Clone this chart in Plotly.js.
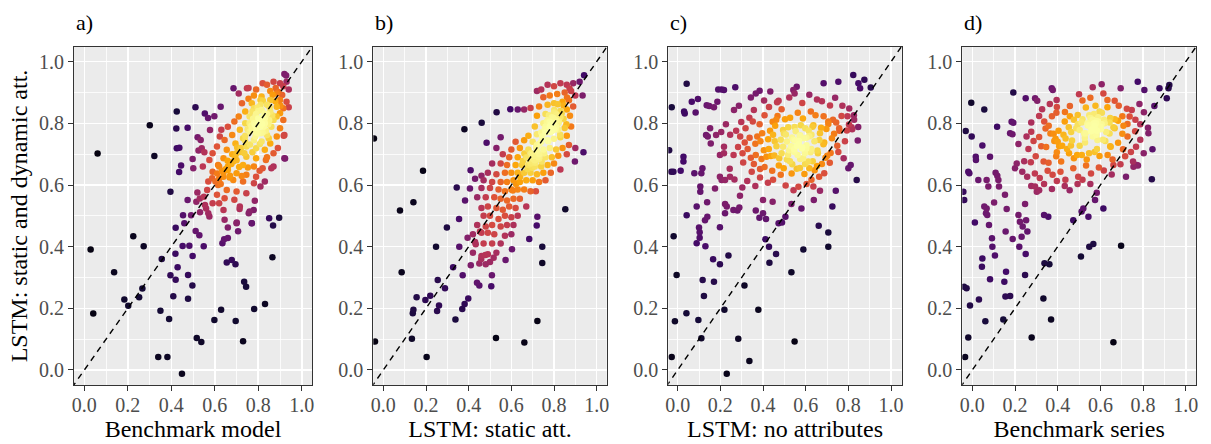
<!DOCTYPE html>
<html>
<head>
<meta charset="utf-8">
<script src="https://cdn.plot.ly/plotly-3.0.1.min.js"></script>
<style>html,body{margin:0;padding:0;background:#fff;}#chart{width:1211px;height:444px;}</style>
</head>
<body>
<div id="chart"></div>
<script>
// ---------------- data ----------------
const panelLabels = ['a)', 'b)', 'c)', 'd)'];
const xTitles = ['Benchmark model', 'LSTM: static att.', 'LSTM: no attributes', 'Benchmark series'];
const yTitle = 'LSTM: static and dynamic att.';
const tickVals = [0, 0.2, 0.4, 0.6, 0.8, 1.0];
const tickText = ['0.0', '0.2', '0.4', '0.6', '0.8', '1.0'];

const ptsA = [
[0.061,0.702],[0.029,0.391],[0.041,0.183],[0.137,0.317],[0.184,0.229],[0.202,0.208],[0.225,0.434],[0.273,0.401],[0.267,0.264],[0.252,0.236],
[0.301,0.794],[0.322,0.694],[0.350,0.192],[0.356,0.360],[0.340,0.042],[0.382,0.042],[0.390,0.165],[0.396,0.578],[0.396,0.307],[0.409,0.239],
[0.420,0.293],[0.419,0.377],[0.420,0.461],[0.429,0.333],[0.425,0.838],[0.423,0.783],[0.425,0.719],[0.437,0.721],[0.449,-0.012],[0.454,0.502],
[0.452,0.402],[0.460,0.476],[0.475,0.551],[0.477,0.308],[0.477,0.231],[0.475,0.786],[0.445,0.663],[0.436,0.642],[0.483,0.403],[0.491,0.502],
[0.498,0.370],[0.497,0.274],[0.498,0.684],[0.501,0.654],[0.511,0.852],[0.517,0.104],[0.538,0.091],[0.512,0.451],[0.529,0.437],[0.549,0.401],
[0.521,0.755],[0.535,0.746],[0.525,0.712],[0.554,0.832],[0.569,0.817],[0.540,0.719],[0.552,0.706],[0.520,0.576],[0.531,0.556],[0.532,0.512],
[0.560,0.524],[0.575,0.498],[0.598,0.162],[0.629,0.195],[0.635,0.411],[0.643,0.424],[0.660,0.428],[0.655,0.349],[0.678,0.357],[0.695,0.343],
[0.696,0.159],[0.660,0.462],[0.707,0.450],[0.701,0.478],[0.735,0.286],[0.744,0.270],[0.730,0.093],[0.781,0.198],[0.831,0.214],[0.770,0.476],
[0.779,0.519],[0.784,0.549],[0.756,0.508],[0.714,0.522],[0.865,0.366],[0.868,0.469],[0.896,0.494],[0.923,0.686],[0.928,0.955],[0.917,0.760],
[0.940,0.852],[0.686,0.914],[0.748,0.914],[0.627,0.854],[0.598,0.823],[0.623,0.757],[0.578,0.778],
[0.92,0.96],[0.93,0.935],[0.90,0.93],[0.87,0.935],[0.84,0.925],[0.82,0.93],[0.88,0.915],[0.915,0.92],[0.94,0.91],[0.855,0.905],
[0.79,0.91],[0.755,0.915],[0.71,0.897],[0.78,0.89],[0.815,0.887],[0.885,0.897],[0.91,0.892],[0.755,0.88],[0.81,0.876],[0.855,0.876],
[0.90,0.876],[0.93,0.87],[0.725,0.865],[0.77,0.865],[0.84,0.86],[0.885,0.854],[0.915,0.849],[0.78,0.849],[0.815,0.843],[0.855,0.838],
[0.90,0.833],[0.74,0.838],[0.71,0.822],[0.76,0.822],[0.80,0.816],[0.83,0.816],[0.87,0.811],[0.915,0.811],[0.69,0.806],[0.74,0.80],
[0.785,0.795],[0.825,0.789],[0.86,0.789],[0.90,0.784],[0.66,0.789],[0.715,0.779],[0.76,0.773],[0.80,0.768],[0.84,0.762],[0.885,0.757],
[0.92,0.762],[0.63,0.779],[0.68,0.762],[0.73,0.752],[0.78,0.746],[0.815,0.741],[0.855,0.735],[0.89,0.72],[0.645,0.746],[0.695,0.735],
[0.745,0.725],[0.79,0.719],[0.83,0.714],[0.87,0.703],[0.92,0.687],[0.61,0.725],[0.655,0.714],[0.70,0.703],[0.745,0.692],[0.79,0.687],
[0.835,0.681],[0.87,0.66],[0.59,0.703],[0.64,0.687],[0.685,0.676],[0.73,0.665],[0.78,0.66],[0.82,0.654],[0.86,0.654],[0.575,0.681],
[0.615,0.665],[0.66,0.649],[0.70,0.638],[0.745,0.633],[0.79,0.627],[0.83,0.611],[0.545,0.660],[0.59,0.643],[0.64,0.627],[0.685,0.616],
[0.73,0.611],[0.78,0.606],[0.81,0.595],[0.57,0.611],[0.615,0.600],[0.655,0.584],[0.70,0.579],[0.745,0.573],[0.565,0.584],[0.61,0.568],
[0.645,0.557],[0.69,0.552],[0.55,0.562],[0.59,0.541],[0.62,0.541],[0.515,0.546],[0.555,0.535],[0.64,0.519],[0.715,0.530],[0.76,0.514],
[0.57,0.508],[0.645,0.487],[0.70,0.476],[0.77,0.476],[0.85,0.492],
[0.80,0.80],[0.82,0.82],[0.79,0.83],[0.81,0.79],[0.83,0.80],[0.78,0.80],[0.80,0.84],[0.84,0.83],[0.77,0.78],[0.82,0.77],
[0.76,0.80],[0.85,0.81],[0.81,0.86],[0.79,0.77],[0.74,0.76],[0.72,0.72],[0.70,0.68],[0.68,0.70],[0.66,0.66],[0.64,0.64],
[0.62,0.62],[0.62,0.66],[0.67,0.63],
[0.805,0.812],[0.792,0.786],[0.818,0.798],[0.776,0.815],[0.829,0.832],[0.797,0.851],[0.846,0.797],[0.768,0.792],[0.812,0.768],[0.787,0.757],
[0.835,0.776],[0.852,0.852],[0.864,0.826],[0.821,0.873],[0.773,0.838],[0.751,0.781],[0.739,0.744],[0.762,0.731],[0.718,0.707],[0.703,0.722],
[0.694,0.691],[0.676,0.668],[0.659,0.679],[0.651,0.652],[0.633,0.646],[0.611,0.637],[0.627,0.603],[0.603,0.611],[0.588,0.622],[0.668,0.624],
[0.712,0.658],[0.736,0.703],[0.878,0.872],[0.893,0.902],[0.866,0.893],[0.902,0.857],[0.884,0.822],[0.848,0.752],[0.807,0.733],[0.773,0.706],
[0.752,0.657],[0.724,0.629],[0.806,0.646],[0.840,0.690]
];

const ptsB = [
[-0.044,0.751],[-0.039,0.092],[0.078,0.517],[0.086,0.317],[0.141,0.544],[0.186,0.646],[0.134,0.101],[0.203,0.042],[0.138,0.184],[0.141,0.195],
[0.156,0.236],[0.197,0.227],[0.220,0.241],[0.247,0.400],[0.255,0.292],[0.252,0.191],[0.261,0.209],[0.289,0.265],[0.298,0.462],[0.327,0.333],
[0.338,0.164],[0.344,0.592],[0.355,0.490],[0.356,0.400],[0.372,0.307],[0.380,0.781],[0.383,0.550],[0.370,0.198],[0.381,0.214],[0.398,0.232],
[0.395,0.429],[0.406,0.589],[0.409,0.648],[0.433,0.408],[0.439,0.283],[0.450,0.274],[0.461,0.802],[0.453,0.449],[0.459,0.360],[0.478,0.373],
[0.480,0.343],[0.506,0.272],[0.509,0.307],[0.517,0.364],[0.528,0.104],[0.573,0.357],[0.603,0.392],[0.661,0.089],[0.684,0.425],[0.722,0.159],
[0.719,0.469],[0.722,0.497],[0.745,0.400],[0.745,0.347],[0.853,0.521],[0.938,0.706],[0.898,0.676],[0.941,0.956],[0.934,0.890],[0.484,0.737],
[0.531,0.836],[0.595,0.846],[0.550,0.755],
[0.92,0.935],[0.89,0.93],[0.86,0.925],[0.83,0.93],[0.80,0.92],[0.77,0.925],[0.74,0.91],[0.72,0.905],[0.88,0.905],[0.85,0.90],
[0.815,0.895],[0.78,0.89],[0.75,0.885],[0.90,0.89],[0.87,0.875],[0.84,0.87],[0.80,0.865],[0.77,0.86],[0.73,0.855],[0.69,0.85],
[0.66,0.845],[0.63,0.845],[0.89,0.855],[0.86,0.845],[0.83,0.84],[0.80,0.835],[0.76,0.83],[0.72,0.825],[0.875,0.825],[0.845,0.815],
[0.81,0.81],[0.78,0.805],[0.75,0.80],[0.71,0.79],[0.88,0.79],[0.85,0.785],[0.82,0.78],[0.79,0.775],[0.76,0.77],[0.72,0.765],
[0.68,0.76],[0.86,0.76],[0.83,0.755],[0.80,0.75],[0.77,0.745],[0.74,0.74],[0.70,0.74],[0.66,0.745],[0.62,0.74],[0.90,0.72],
[0.87,0.73],[0.84,0.72],[0.81,0.715],[0.78,0.72],[0.75,0.715],[0.72,0.71],[0.68,0.715],[0.64,0.72],[0.60,0.715],[0.86,0.70],
[0.82,0.695],[0.79,0.69],[0.76,0.69],[0.73,0.685],[0.70,0.685],[0.67,0.69],[0.63,0.69],[0.59,0.69],[0.56,0.70],[0.53,0.72],
[0.80,0.67],[0.77,0.665],[0.74,0.66],[0.71,0.66],[0.68,0.665],[0.65,0.665],[0.62,0.665],[0.58,0.665],[0.55,0.67],[0.51,0.67],
[0.83,0.65],[0.785,0.64],[0.75,0.64],[0.72,0.635],[0.69,0.64],[0.66,0.64],[0.63,0.64],[0.60,0.64],[0.57,0.64],[0.53,0.635],
[0.49,0.64],[0.46,0.63],[0.76,0.615],[0.73,0.61],[0.70,0.615],[0.67,0.615],[0.64,0.61],[0.61,0.615],[0.58,0.61],[0.55,0.61],
[0.51,0.61],[0.47,0.615],[0.43,0.62],[0.715,0.58],[0.69,0.58],[0.66,0.585],[0.63,0.585],[0.60,0.585],[0.57,0.58],[0.54,0.585],
[0.50,0.59],[0.46,0.59],[0.64,0.555],[0.61,0.555],[0.58,0.55],[0.55,0.555],[0.52,0.56],[0.48,0.56],[0.44,0.56],[0.67,0.53],
[0.62,0.525],[0.59,0.53],[0.56,0.52],[0.53,0.525],[0.49,0.53],[0.46,0.525],[0.63,0.50],[0.60,0.495],[0.57,0.50],[0.54,0.49],
[0.50,0.50],[0.47,0.50],[0.61,0.47],[0.58,0.47],[0.55,0.465],[0.51,0.47],[0.48,0.465],[0.44,0.47],[0.60,0.44],[0.57,0.435],
[0.52,0.44],[0.49,0.445],[0.46,0.445],[0.42,0.44],[0.55,0.41],[0.51,0.41],[0.47,0.41],[0.43,0.415],[0.53,0.38],[0.49,0.375],
[0.46,0.37],[0.42,0.38],[0.50,0.35],[0.45,0.345],[0.41,0.34],
[0.80,0.80],[0.79,0.82],[0.81,0.83],[0.82,0.80],[0.78,0.79],[0.80,0.78],[0.77,0.81],[0.83,0.82],[0.81,0.79],[0.79,0.80],
[0.76,0.79],[0.74,0.77],[0.72,0.73],[0.70,0.70],[0.71,0.68],[0.69,0.67],[0.73,0.70],
[0.797,0.817],[0.786,0.796],[0.812,0.827],[0.776,0.826],[0.823,0.806],[0.801,0.843],[0.766,0.804],[0.807,0.781],[0.783,0.771],[0.836,0.833],
[0.845,0.858],[0.818,0.862],[0.757,0.782],[0.744,0.757],[0.732,0.734],[0.716,0.722],[0.706,0.694],[0.693,0.703],[0.687,0.677],[0.674,0.688],
[0.712,0.672],[0.727,0.691],[0.698,0.656],[0.676,0.652],[0.742,0.676],[0.753,0.703],[0.654,0.678],[0.661,0.702],[0.861,0.884],[0.873,0.913],
[0.858,0.797],[0.829,0.763],[0.773,0.742],[0.641,0.627],[0.622,0.603],[0.607,0.582]
];

const ptsC = [
[0.042,0.928],[-0.028,0.852],[-0.028,0.042],[-0.013,0.158],[-0.005,0.308],[-0.019,0.434],[-0.03,0.643],[-0.02,0.643],[-0.04,0.713],[0.014,0.646],
[0.027,0.676],[0.027,0.692],[0.030,0.838],[0.033,0.832],[0.042,0.502],[0.041,0.184],[0.066,0.870],[0.084,0.835],[0.095,0.879],[0.078,0.638],
[0.089,0.530],[0.100,0.462],[0.103,0.447],[0.103,0.429],[0.089,0.411],[0.111,0.638],[0.106,0.595],[0.106,0.578],[0.116,0.654],[0.097,0.162],
[0.117,0.292],[0.123,0.240],[0.111,0.103],[0.130,0.401],[0.128,0.486],[0.139,0.497],[0.138,0.544],[0.136,0.859],[0.148,0.856],[0.133,0.762],
[0.141,0.757],[0.152,0.784],[0.155,0.735],[0.166,0.359],[0.170,0.286],[0.175,0.589],[0.180,0.762],[0.186,0.870],[0.170,0.852],[0.198,0.463],
[0.198,0.343],[0.190,0.910],[0.206,0.910],[0.217,0.908],[0.198,0.627],[0.206,0.616],[0.222,0.616],[0.198,0.697],[0.217,0.703],[0.222,0.538],
[0.230,0.530],[0.222,0.508],[0.238,0.371],[0.219,0.195],[0.230,-0.012],[0.245,0.627],[0.270,0.917],[0.261,0.519],[0.280,0.517],[0.289,0.527],
[0.284,0.101],[0.292,0.565],[0.313,0.274],[0.336,0.029],[0.378,0.195],[0.366,0.517],[0.383,0.494],[0.384,0.906],[0.400,0.551],[0.411,0.424],
[0.414,0.490],[0.400,0.508],[0.428,0.400],[0.430,0.348],[0.445,0.546],[0.461,0.376],[0.473,0.476],[0.489,0.478],[0.505,0.497],[0.533,0.317],
[0.533,0.538],[0.548,0.092],[0.580,0.524],[0.589,0.391],[0.636,0.595],[0.638,0.551],[0.661,0.468],[0.667,0.581],[0.706,0.446],[0.706,0.400],
[0.725,0.530],[0.741,0.581],[0.823,0.957],[0.839,0.616],[0.844,0.744],[0.875,0.941],[0.847,0.930],[0.855,0.914],[0.905,0.916],[0.753,0.935],
[0.684,0.930],[0.542,0.908],[0.558,0.919],[0.800,0.654],[0.811,0.665],
[0.405,0.874],[0.428,0.853],[0.466,0.868],[0.487,0.846],[0.523,0.884],[0.548,0.897],[0.584,0.866],[0.617,0.893],[0.653,0.877],[0.676,0.872],
[0.714,0.858],[0.738,0.883],[0.772,0.857],[0.804,0.848],[0.826,0.826],[0.357,0.843],[0.336,0.818],[0.298,0.804],[0.274,0.776],[0.246,0.763],
[0.293,0.757],[0.318,0.784],[0.352,0.806],[0.384,0.797],[0.407,0.826],[0.445,0.805],[0.468,0.824],[0.503,0.813],[0.527,0.818],[0.563,0.834],
[0.587,0.816],[0.624,0.838],[0.646,0.826],[0.684,0.823],[0.706,0.806],[0.743,0.803],[0.768,0.824],[0.803,0.796],[0.827,0.812],[0.846,0.788],
[0.818,0.781],[0.793,0.777],[0.757,0.784],[0.733,0.766],[0.697,0.782],[0.672,0.786],[0.636,0.794],[0.614,0.776],[0.577,0.794],[0.553,0.774],
[0.518,0.787],[0.494,0.778],[0.457,0.792],[0.433,0.776],[0.396,0.768],[0.373,0.757],[0.337,0.753],[0.314,0.738],[0.283,0.723],[0.262,0.697],
[0.304,0.703],[0.328,0.717],[0.364,0.734],[0.388,0.742],[0.424,0.748],[0.447,0.763],[0.483,0.747],[0.507,0.764],[0.543,0.747],[0.572,0.758],
[0.603,0.753],[0.627,0.763],[0.664,0.746],[0.687,0.738],[0.723,0.752],[0.748,0.727],[0.784,0.742],[0.559,0.727],[0.584,0.722],[0.547,0.707],
[0.596,0.703],[0.532,0.726],[0.568,0.743],[0.603,0.718],[0.623,0.706],[0.518,0.698],[0.494,0.724],[0.463,0.726],[0.427,0.717],[0.404,0.713],
[0.366,0.697],[0.343,0.688],[0.307,0.673],[0.357,0.668],[0.393,0.684],[0.416,0.692],[0.453,0.696],[0.476,0.687],[0.512,0.683],[0.537,0.667],
[0.574,0.684],[0.597,0.668],[0.633,0.677],[0.657,0.703],[0.693,0.688],[0.717,0.704],[0.753,0.707],[0.778,0.687],[0.347,0.643],[0.386,0.652],
[0.407,0.658],[0.443,0.646],[0.474,0.663],[0.497,0.654],[0.534,0.637],[0.558,0.653],[0.594,0.636],[0.617,0.654],[0.653,0.662],[0.676,0.668],
[0.713,0.672],[0.326,0.613],[0.364,0.597],[0.386,0.624],[0.423,0.607],[0.447,0.617],[0.483,0.633],[0.506,0.598],[0.543,0.583],[0.566,0.594],
[0.604,0.603],[0.627,0.617],[0.663,0.627],[0.687,0.638],[0.244,0.653],[0.266,0.618],[0.303,0.592],[0.217,0.724],[0.204,0.772],[0.226,0.797],
[0.264,0.843],[0.287,0.857],[0.343,0.884],[0.366,0.897],[0.434,0.903],[0.473,0.873],
[0.567,0.732],[0.582,0.718],[0.551,0.744],[0.593,0.752],[0.574,0.761],[0.546,0.716],[0.604,0.729],[0.562,0.697],[0.588,0.687],[0.536,0.754],
[0.617,0.758],[0.626,0.717],[0.523,0.713],[0.512,0.741],[0.641,0.742],[0.598,0.784],[0.548,0.788],[0.632,0.789],[0.667,0.768],[0.683,0.732],
[0.655,0.712],[0.498,0.767],[0.487,0.703],[0.526,0.677],[0.612,0.676],[0.573,0.655],[0.642,0.648],[0.706,0.798],[0.728,0.812],[0.455,0.742],
[0.437,0.694],[0.462,0.812],[0.701,0.695],[0.758,0.776],[0.796,0.823],[0.815,0.787]
];

const ptsD = [
[-0.005,0.867],[-0.034,0.042],[-0.019,0.105],[-0.011,0.209],[-0.039,0.270],[-0.027,0.265],[-0.042,0.578],[-0.038,0.551],[-0.031,0.775],[-0.003,0.757],
[-0.019,0.643],[-0.014,0.638],[0.012,0.478],[0.017,0.681],[0.016,0.692],[0.031,0.229],[0.028,0.616],[0.047,0.728],[0.047,0.362],[0.045,0.335],
[0.056,0.845],[0.061,0.158],[0.056,0.530],[0.067,0.524],[0.064,0.508],[0.070,0.503],[0.067,0.616],[0.075,0.595],[0.083,0.692],[0.078,0.470],
[0.083,0.294],[0.092,0.427],[0.094,0.400],[0.106,0.371],[0.109,0.640],[0.117,0.630],[0.122,0.616],[0.125,0.595],[0.116,0.789],[0.102,0.543],
[0.145,0.164],[0.150,0.286],[0.158,0.319],[0.155,0.238],[0.177,0.240],[0.153,0.568],[0.161,0.522],[0.156,0.449],[0.192,0.900],[0.184,0.805],
[0.192,0.802],[0.177,0.768],[0.188,0.765],[0.189,0.425],[0.200,0.654],[0.208,0.670],[0.216,0.503],[0.223,0.481],[0.236,0.465],[0.220,0.400],
[0.231,0.432],[0.247,0.308],[0.250,0.376],[0.247,0.538],[0.250,0.881],[0.252,0.486],[0.258,0.449],[0.278,0.105],[0.294,0.595],[0.302,0.578],
[0.294,0.881],[0.333,0.232],[0.338,0.346],[0.361,0.343],[0.336,0.503],[0.356,0.497],[0.369,0.164],[0.372,0.914],[0.377,0.908],[0.395,0.876],
[0.473,0.486],[0.509,0.368],[0.512,0.514],[0.520,0.524],[0.544,0.497],[0.548,0.400],[0.567,0.409],[0.575,0.551],[0.583,0.575],[0.614,0.524],
[0.661,0.090],[0.697,0.403],[0.661,0.665],[0.720,0.627],[0.755,0.659],[0.770,0.665],[0.841,0.619],[0.844,0.716],[0.825,0.768],[0.853,0.856],
[0.877,0.914],[0.919,0.914],[0.923,0.924],[0.911,0.881],[0.775,0.935],[0.806,0.908],[0.695,0.914],[0.606,0.927],[0.564,0.917],[0.500,0.894],
[0.304,0.873],[0.327,0.846],[0.363,0.863],[0.396,0.853],[0.434,0.837],[0.457,0.856],[0.494,0.827],[0.516,0.874],[0.553,0.883],[0.577,0.857],
[0.614,0.897],[0.633,0.876],[0.667,0.873],[0.686,0.857],[0.724,0.847],[0.747,0.843],[0.783,0.863],[0.804,0.836],[0.276,0.803],[0.313,0.824],
[0.337,0.806],[0.373,0.823],[0.394,0.834],[0.433,0.806],[0.457,0.823],[0.494,0.797],[0.516,0.813],[0.553,0.817],[0.583,0.807],[0.607,0.834],
[0.646,0.817],[0.667,0.813],[0.703,0.823],[0.727,0.798],[0.764,0.812],[0.787,0.797],[0.823,0.786],[0.254,0.757],[0.276,0.773],[0.313,0.756],
[0.343,0.783],[0.366,0.767],[0.404,0.776],[0.427,0.763],[0.463,0.772],[0.487,0.784],[0.524,0.767],[0.547,0.793],[0.584,0.776],[0.606,0.797],
[0.643,0.767],[0.667,0.784],[0.703,0.766],[0.727,0.757],[0.763,0.774],[0.787,0.747],[0.216,0.733],[0.263,0.717],[0.287,0.743],[0.323,0.726],
[0.346,0.723],[0.384,0.743],[0.407,0.726],[0.444,0.717],[0.467,0.744],[0.503,0.727],[0.527,0.753],[0.564,0.757],[0.586,0.746],[0.623,0.743],
[0.646,0.726],[0.683,0.737],[0.706,0.716],[0.743,0.707],[0.767,0.724],[0.803,0.703],[0.243,0.677],[0.274,0.674],[0.297,0.693],[0.334,0.676],
[0.357,0.672],[0.393,0.693],[0.416,0.676],[0.453,0.703],[0.476,0.687],[0.513,0.697],[0.536,0.683],[0.573,0.707],[0.596,0.694],[0.634,0.697],
[0.657,0.683],[0.694,0.667],[0.716,0.693],[0.753,0.676],[0.776,0.663],[0.234,0.643],[0.257,0.627],[0.293,0.637],[0.316,0.623],[0.353,0.646],
[0.376,0.633],[0.413,0.643],[0.436,0.617],[0.473,0.654],[0.496,0.627],[0.533,0.663],[0.556,0.637],[0.593,0.657],[0.616,0.647],[0.653,0.634],
[0.276,0.597],[0.313,0.583],[0.336,0.603],[0.373,0.587],[0.396,0.613],[0.433,0.597],[0.456,0.583],[0.493,0.603],[0.516,0.617],[0.553,0.603],
[0.570,0.800],[0.590,0.820],[0.560,0.780],[0.600,0.790],[0.580,0.800],[0.540,0.800],[0.620,0.800],[0.570,0.830],[0.390,0.750],[0.400,0.740],
[0.573,0.792],[0.588,0.806],[0.556,0.774],[0.602,0.781],[0.564,0.812],[0.541,0.793],[0.617,0.812],[0.582,0.763],[0.531,0.768],[0.548,0.826],
[0.627,0.772],[0.596,0.838],[0.512,0.803],[0.643,0.803],[0.503,0.778],[0.661,0.787],[0.476,0.812],[0.528,0.738],[0.612,0.747],[0.452,0.787],
[0.437,0.751],[0.421,0.727],[0.396,0.706],[0.462,0.728],[0.683,0.808],[0.708,0.792],[0.532,0.851],[0.633,0.852],[0.584,0.717],[0.648,0.724],
[0.737,0.822],[0.381,0.766],[0.358,0.792],[0.491,0.697],[0.547,0.703]
];

const panels = [ptsA, ptsB, ptsC, ptsD];

// ---------------- style / layout ----------------
const W = 1211, H = 444;
const FONT = 'Liberation Serif, Times New Roman, serif';
const inferno = [
  [0.0, '#000004'], [0.1, '#160b39'], [0.2, '#420a68'], [0.3, '#6a176e'],
  [0.4, '#932667'], [0.5, '#bc3754'], [0.6, '#dd513a'], [0.7, '#f37819'],
  [0.8, '#fca50a'], [0.9, '#f6d746'], [1.0, '#fcffa4']
];
const boxX = [[74, 312], [373.3, 606.7], [668.3, 901.7], [962.3, 1196]];
const boxY = [47, 385];
const xRanges = [[-0.0475, 1.047], [-0.047, 1.047], [-0.044, 1.05], [-0.047, 1.048]];
const yRange = [-0.0487, 1.0476];

function density(pts, h) {
  return pts.map(p => {
    let s = 0;
    for (const q of pts) {
      const dx = (p[0] - q[0]) / h, dy = (p[1] - q[1]) / h;
      s += Math.exp(-0.5 * (dx * dx + dy * dy));
    }
    return s;
  });
}

const traces = [];
const layout = {
  width: W, height: H,
  margin: {l: 0, r: 0, t: 0, b: 0},
  paper_bgcolor: '#ffffff',
  plot_bgcolor: '#ebebeb',
  showlegend: false,
  font: {family: FONT, color: '#000'},
  annotations: [],
  shapes: []
};

panels.forEach((pts, i) => {
  const d = density(pts, 0.07);
  const mx = Math.max(...d);
  const col = d.map(v => 1 - Math.pow(1 - v / mx, 1.35));
  const order = pts.map((p, k) => k).sort((a, b) => d[a] - d[b]);
  const sfx = i === 0 ? '' : String(i + 1);
  traces.push({
    type: 'scatter', mode: 'markers',
    x: order.map(k => pts[k][0]),
    y: order.map(k => pts[k][1]),
    xaxis: 'x' + sfx, yaxis: 'y' + sfx,
    marker: {size: 6.5, color: order.map(k => col[k]), colorscale: inferno, cmin: 0, cmax: 1, showscale: false, line: {width: 0}},
    hoverinfo: 'skip'
  });
  const common = {
    tickmode: 'array', tickvals: tickVals, ticktext: tickText,
    ticks: 'outside', ticklen: 5, tickwidth: 1, tickcolor: '#333333',
    showline: true, linecolor: '#333333', linewidth: 1, mirror: true,
    showgrid: true, gridcolor: '#ffffff', gridwidth: 1.6,
    minor: {tickmode: 'array', tickvals: [0.1, 0.3, 0.5, 0.7, 0.9], showgrid: true, gridcolor: '#ffffff', gridwidth: 0.8, ticks: ''},
    zeroline: false, fixedrange: true,
    tickfont: {family: FONT, size: 20, color: '#4d4d4d'}
  };
  layout['xaxis' + sfx] = Object.assign({}, common, {
    domain: [boxX[i][0] / W, boxX[i][1] / W],
    range: xRanges[i], anchor: 'y' + sfx,
    ticklabelstandoff: -3,
    title: {text: xTitles[i], font: {family: FONT, size: 24, color: '#000'}, standoff: 0}
  });
  const yax = Object.assign({}, common, {
    domain: [1 - boxY[1] / H, 1 - boxY[0] / H],
    range: yRange, anchor: 'x' + sfx
  });
  if (i === 0) yax.title = {text: yTitle, font: {family: FONT, size: 24, color: '#000'}, standoff: 4};
  layout['yaxis' + sfx] = yax;
  const lo = Math.max(xRanges[i][0], yRange[0]) - 0.01, hi = Math.min(xRanges[i][1], yRange[1]) + 0.01;
  layout.shapes.push({
    type: 'line', xref: 'x' + sfx, yref: 'y' + sfx,
    x0: lo, y0: lo, x1: hi, y1: hi,
    line: {color: '#000000', width: 1.4, dash: '6px,5px'}, layer: 'above'
  });
  layout.annotations.push({
    text: panelLabels[i], xref: 'paper', yref: 'paper',
    x: boxX[i][0] / W, y: 1 - 22 / H, xanchor: 'left', yanchor: 'middle',
    showarrow: false, font: {family: FONT, size: 22, color: '#000'}
  });
});

Plotly.newPlot('chart', traces, layout, {staticPlot: true, displayModeBar: false});
</script>
</body>
</html>
